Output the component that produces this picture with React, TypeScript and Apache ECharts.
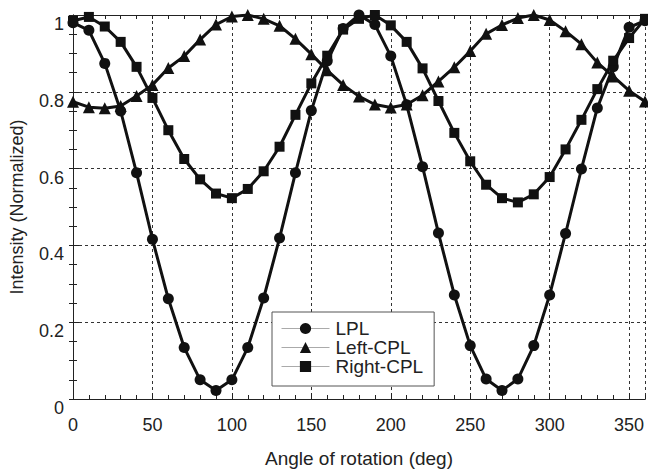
import React, { useEffect, useRef } from "react";
import * as echarts from "echarts";

const angles = [0, 10, 20, 30, 40, 50, 60, 70, 80, 90, 100, 110, 120, 130, 140, 150, 160, 170, 180, 190, 200, 210, 220, 230, 240, 250, 260, 270, 280, 290, 300, 310, 320, 330, 340, 350, 360];

const lpl = [0.98, 0.96, 0.874, 0.75, 0.589, 0.416, 0.261, 0.134, 0.05, 0.022, 0.05, 0.134, 0.263, 0.419, 0.589, 0.751, 0.88, 0.965, 1.0, 0.975, 0.893, 0.766, 0.605, 0.432, 0.271, 0.139, 0.052, 0.022, 0.052, 0.139, 0.271, 0.431, 0.599, 0.758, 0.865, 0.968, 0.985];

const leftCpl = [0.774, 0.76, 0.757, 0.763, 0.789, 0.818, 0.862, 0.893, 0.936, 0.975, 0.996, 1.0, 0.99, 0.972, 0.938, 0.898, 0.856, 0.818, 0.788, 0.767, 0.759, 0.767, 0.791, 0.827, 0.864, 0.906, 0.951, 0.974, 0.992, 1.0, 0.987, 0.958, 0.924, 0.876, 0.84, 0.803, 0.775];

const rightCpl = [0.985, 0.995, 0.97, 0.93, 0.865, 0.784, 0.7, 0.625, 0.572, 0.535, 0.523, 0.547, 0.593, 0.657, 0.74, 0.822, 0.894, 0.962, 0.99, 1.0, 0.973, 0.93, 0.861, 0.776, 0.693, 0.619, 0.558, 0.523, 0.512, 0.533, 0.578, 0.65, 0.727, 0.807, 0.881, 0.94, 0.99];

const seriesNames = ["LPL", "Left-CPL", "Right-CPL"];
const seriesSymbols = ["circle", "triangle", "rect"];
const seriesSizes = [11, 12, 10];
const seriesData = [lpl, leftCpl, rightCpl];

const xLabel = "Angle of rotation (deg)";
const yLabel = "Intensity (Normalized)";

const FONT = "Liberation Sans, Arial, sans-serif";
const INK = "#111";

export default function App() {
  const ref = useRef<HTMLDivElement>(null);
  useEffect(() => {
    if (!ref.current) return;
    const chart = echarts.init(ref.current, null, { renderer: "svg" });
    const axisLine = { show: true, lineStyle: { color: "#222", width: 1 } };
    const option: any = {
      animation: false,
      backgroundColor: "#fff",
      grid: { left: 73, right: 3, top: 15, bottom: 67, containLabel: false },
      legend: {
        orient: "vertical",
        left: 272,
        top: 312,
        padding: [7, 11, 10, 9],
        itemGap: 0,
        itemWidth: 48,
        itemHeight: 14,
        backgroundColor: "#fff",
        borderColor: "#555",
        borderWidth: 1,
        borderRadius: 0,
        data: seriesNames,
        lineStyle: { color: "#aaa", width: 1 },
        itemStyle: { color: INK },
        textStyle: { fontFamily: FONT, fontSize: 19, color: "#222", padding: [0, 0, 0, 1] },
      },
      xAxis: [
        {
          type: "value",
          position: "bottom",
          min: 0,
          max: 360,
          interval: 50,
          name: xLabel,
          nameLocation: "middle",
          nameGap: 50,
          nameTextStyle: { fontFamily: FONT, fontSize: 19, color: "#222" },
          axisLine,
          axisTick: { show: true, inside: true, length: 6, lineStyle: { color: "#222" } },
          axisLabel: { margin: 17, fontFamily: FONT, fontSize: 18, color: "#222", showMaxLabel: false },
          splitLine: { show: true, lineStyle: { color: "#333", width: 1, type: [3, 3] } },
        },
        {
          type: "value",
          position: "bottom",
          min: 0,
          max: 360,
          interval: 10,
          axisLine,
          axisTick: { show: true, inside: true, length: 4, lineStyle: { color: "#222" } },
          axisLabel: { show: false },
          splitLine: { show: false },
        },
        {
          type: "value",
          position: "top",
          min: 0,
          max: 360,
          interval: 10,
          axisLine,
          axisTick: { show: true, inside: true, length: 4, lineStyle: { color: "#222" } },
          axisLabel: { show: false },
          splitLine: { show: false },
        },
      ],
      yAxis: [
        {
          type: "value",
          position: "left",
          min: 0,
          max: 1,
          interval: 0.2,
          name: yLabel,
          nameLocation: "middle",
          nameGap: 47,
          nameTextStyle: { fontFamily: FONT, fontSize: 18, color: "#222" },
          axisLine,
          axisTick: { show: true, inside: true, length: 6, lineStyle: { color: "#222" } },
          minorTick: { show: true, splitNumber: 4, length: 4, lineStyle: { color: "#222" } },
          axisLabel: {
            margin: 9,
            fontFamily: FONT,
            fontSize: 18,
            color: "#222",
            verticalAlign: "top",
            formatter: (v: number) => String(Number(v.toFixed(1))),
          },
          splitLine: { show: true, lineStyle: { color: "#333", width: 1, type: [3, 3] } },
        },
        {
          type: "value",
          position: "right",
          min: 0,
          max: 1,
          interval: 0.05,
          axisLine,
          axisTick: { show: true, inside: true, length: 4, lineStyle: { color: "#222" } },
          axisLabel: { show: false },
          splitLine: { show: false },
        },
      ],
      series: seriesNames.map((name, i) => ({
        name,
        type: "line",
        xAxisIndex: 0,
        yAxisIndex: 0,
        data: angles.map((a, j) => [a, seriesData[i][j]]),
        symbol: seriesSymbols[i],
        symbolSize: seriesSizes[i],
        showSymbol: true,
        lineStyle: { color: INK, width: 3 },
        itemStyle: { color: INK, borderColor: INK, borderWidth: 0 },
        emphasis: { disabled: true },
      })),
    };
    chart.setOption(option);
    return () => chart.dispose();
  }, []);
  return (
    <div
      ref={ref}
      style={{ position: "fixed", left: 0, top: 0, width: 648, height: 473, background: "#fff" }}
    />
  );
}
